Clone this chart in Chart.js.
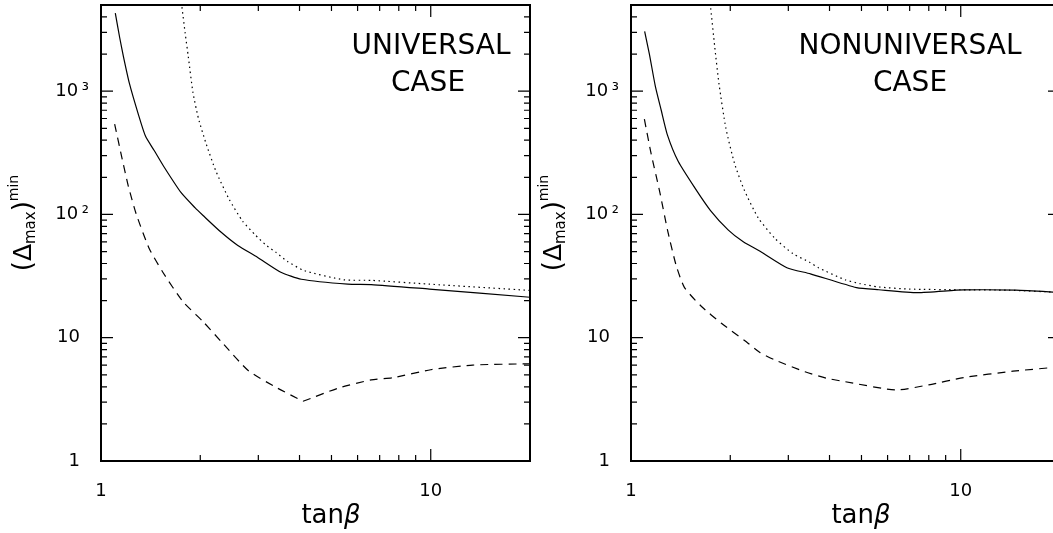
<!DOCTYPE html>
<html>
<head>
<meta charset="utf-8">
<script src="https://cdn.jsdelivr.net/npm/chart.js@4.4.1/dist/chart.umd.min.js"></script>
<style>
  html, body { margin: 0; padding: 0; background: #fff; overflow: hidden; }
  #wrap { position: relative; width: 1053px; height: 533px; overflow: hidden; background: #fff; }
  #c1 { position: absolute; left: 0; top: 0; }
  #c2 { position: absolute; left: 530px; top: 0; }
</style>
</head>
<body>
<div id="wrap">
  <canvas id="c1" width="531" height="533" style="width:531px;height:533px"></canvas>
  <canvas id="c2" width="531" height="533" style="width:531px;height:533px"></canvas>
</div>
<script>
// ---------------- data ----------------
// Ticks
const xTickValues = [1, 2, 3, 4, 5, 6, 7, 8, 9, 10, 20];
const xTickLabels = ['1', '', '', '', '', '', '', '', '', '10', ''];
const yTickValues = [1, 2, 3, 4, 5, 6, 7, 8, 9,
                     10, 20, 30, 40, 50, 60, 70, 80, 90,
                     100, 200, 300, 400, 500, 600, 700, 800, 900,
                     1000, 2000, 3000, 4000, 5000];
const yTickLabels = ['1\u2002', '', '', '', '', '', '', '', '',
                     '10\u2002', '', '', '', '', '', '', '', '',
                     '10\u2009\u00B2', '', '', '', '', '', '', '', '',
                     '10\u2009\u00B3', '', '', '', ''];

// Universal case (left panel)
const uniSolidX  = [1.105, 1.14, 1.17, 1.22, 1.30, 1.365, 1.45, 1.55, 1.75, 1.93, 2.04, 2.31, 2.6, 2.98, 3.51, 4.05, 5.6, 6.6, 9.9, 20];
const uniSolidY  = [4300, 2700, 1900, 1150, 640, 430, 330, 245, 150, 113, 98, 72, 56, 45, 34, 29.8, 27.2, 27, 24.8, 21.3];
const uniDottedX = [1.76, 1.80, 1.84, 1.90, 1.975, 2.08, 2.23, 2.45, 2.69, 2.94, 3.15, 3.4, 3.68, 4.14, 5.45, 6.6, 9.9, 20];
const uniDottedY = [4800, 2950, 1900, 980, 600, 380, 225, 132, 88, 68, 57, 49, 41.5, 35, 29.5, 29.2, 27.2, 24.2];
const uniDashedX = [1.1, 1.16, 1.21, 1.28, 1.4, 1.54, 1.77, 2.04, 2.35, 2.8, 3.43, 4.1, 5.24, 6.6, 7.7, 10, 13.4, 20];
const uniDashedY = [540, 280, 170, 100, 53, 34, 19.7, 13.5, 8.9, 5.4, 3.9, 3.05, 3.9, 4.55, 4.75, 5.5, 6.0, 6.15];

// Nonuniversal case (right panel)
const nonSolidX  = [1.1, 1.137, 1.185, 1.235, 1.29, 1.39, 1.56, 1.74, 1.97, 2.19, 2.47, 2.97, 3.5, 4.83, 5.64, 7.4, 10.2, 14.7, 20];
const nonSolidY  = [3050, 2000, 1100, 700, 440, 270, 165, 108, 75, 60, 50, 37, 33, 25.5, 24.5, 23.2, 24.4, 24.3, 23.3];
const nonDottedX = [1.745, 1.794, 1.85, 1.94, 2.06, 2.2, 2.43, 2.73, 3.1, 3.48, 3.7, 4.46, 4.94, 5.64, 7.0, 10, 14, 20];
const nonDottedY = [4700, 2300, 1130, 500, 260, 160, 94, 64, 48, 41, 37, 29.5, 27.5, 25.8, 24.8, 24.5, 24.3, 23.3];
const nonDashedX = [1.098, 1.15, 1.22, 1.293, 1.371, 1.453, 1.633, 1.88, 2.21, 2.46, 2.73, 3.37, 3.91, 4.46, 6.34, 8.0, 10.2, 14.4, 20];
const nonDashedY = [592, 314, 156, 73, 38.5, 25.5, 18, 13.1, 9.5, 7.6, 6.6, 5.3, 4.7, 4.4, 3.77, 4.15, 4.75, 5.35, 5.8];

const uniText = ['UNIVERSAL', 'CASE'];
const nonText = ['NONUNIVERSAL', 'CASE'];
const xTitleMain = 'tan';
const xTitleGreek = '\u03B2';

// ---------------- styling ----------------
const FONT = '"DejaVu Sans", "Liberation Sans", sans-serif';
const FW = 400;

function pts(xs, ys) { return xs.map((x, i) => ({ x: x, y: ys[i] })); }

function ds(data, dash, tension) {
  return {
    data: data,
    borderColor: '#000',
    borderWidth: 1.2,
    borderDash: dash,
    pointRadius: 0,
    fill: false,
    tension: tension,
    borderCapStyle: 'butt'
  };
}

// split a curve at its minimum so the sharp kink there is kept
function splitAtMin(xs, ys) {
  let k = 0;
  ys.forEach((v, i) => { if (v < ys[k]) k = i; });
  const all = pts(xs, ys);
  return [all.slice(0, k + 1), all.slice(k)];
}

const panelPlugin = {
  id: 'panel',
  afterDraw(chart, args, opts) {
    const ctx = chart.ctx;
    const { left, right, top, bottom } = chart.chartArea;
    const xs = chart.scales.x, ys = chart.scales.y;
    ctx.save();
    // inward ticks on all four sides
    ctx.strokeStyle = '#000';
    ctx.lineWidth = 1.2;
    ctx.beginPath();
    xTickValues.forEach((v, i) => {
      const px = xs.getPixelForValue(v);
      const L = xTickLabels[i] ? 12 : 6;
      ctx.moveTo(px, bottom); ctx.lineTo(px, bottom - L);
      ctx.moveTo(px, top); ctx.lineTo(px, top + L);
    });
    yTickValues.forEach((v, i) => {
      const py = ys.getPixelForValue(v);
      const L = yTickLabels[i] ? 12 : 6;
      ctx.moveTo(left, py); ctx.lineTo(left + L, py);
      ctx.moveTo(right, py); ctx.lineTo(right - L, py);
    });
    ctx.stroke();
    // frame
    ctx.lineWidth = 2;
    ctx.strokeRect(left, top, right - left, bottom - top);

    ctx.fillStyle = '#000';
    // panel label
    ctx.textAlign = 'center';
    ctx.textBaseline = 'alphabetic';
    ctx.font = FW + ' 28px ' + FONT;
    opts.lines.forEach((t, i) => ctx.fillText(t, opts.cx[i], opts.baselines[i]));

    // x title: tan + italic beta
    ctx.font = FW + ' 26px ' + FONT;
    const w1 = ctx.measureText(xTitleMain).width;
    ctx.font = 'italic ' + FW + ' 26px ' + FONT;
    const w2 = ctx.measureText(xTitleGreek).width;
    const xs0 = opts.xTitleCx - (w1 + w2) / 2;
    ctx.textAlign = 'left';
    ctx.font = FW + ' 26px ' + FONT;
    ctx.fillText(xTitleMain, xs0, 523);
    ctx.font = 'italic ' + FW + ' 26px ' + FONT;
    ctx.fillText(xTitleGreek, xs0 + w1, 523);

    // y title: ( Delta_max )^min, rotated
    const parts = [
      { t: '(', f: FW + ' 26px ' + FONT, dy: 0 },
      { t: '\u0394', f: FW + ' 25px ' + FONT, dy: 0 },
      { t: 'max', f: FW + ' 15px ' + FONT, dy: 4 },
      { t: ')', f: FW + ' 26px ' + FONT, dy: 0 },
      { t: 'min', f: FW + ' 14px ' + FONT, dy: -13 }
    ];
    let total = 0;
    parts.forEach(p => { ctx.font = p.f; p.w = ctx.measureText(p.t).width; total += p.w; });
    ctx.translate(31, 223);
    ctx.rotate(-Math.PI / 2);
    let u = -total / 2;
    parts.forEach(p => { ctx.font = p.f; ctx.fillText(p.t, u, p.dy); u += p.w; });
    ctx.restore();
  }
};

function zeroPad(s) {
  s.paddingTop = 0; s.paddingBottom = 0; s.paddingLeft = 0; s.paddingRight = 0;
}

function makeChart(id, datasets, xmax, text, textCx) {
  return new Chart(document.getElementById(id), {
    type: 'line',
    data: { datasets: datasets },
    plugins: [panelPlugin],
    options: {
      responsive: false,
      animation: false,
      events: [],
      layout: { padding: { top: 5, right: 1, left: 0, bottom: 0 } },
      plugins: {
        legend: { display: false },
        tooltip: { enabled: false },
        panel: { lines: text, cx: textCx, baselines: [54, 91], xTitleCx: 331 }
      },
      scales: {
        x: {
          type: 'logarithmic', position: 'bottom', min: 1, max: xmax,
          grid: { display: false, drawTicks: false, tickLength: 0 },
          border: { display: false },
          afterBuildTicks: s => { s.ticks = xTickValues.map(v => ({ value: v })); },
          afterFit: s => { s.height = 72; zeroPad(s); },
          ticks: {
            autoSkip: false, maxRotation: 0, minRotation: 0, padding: 20, color: '#000',
            font: { family: FONT, size: 18, weight: FW },
            callback: (v, i) => xTickLabels[i]
          }
        },
        y: {
          type: 'logarithmic', position: 'left', min: 1, max: 5000,
          grid: { display: false, drawTicks: false, tickLength: 0 },
          border: { display: false },
          afterBuildTicks: s => { s.ticks = yTickValues.map(v => ({ value: v })); },
          afterFit: s => { s.width = 101; zeroPad(s); },
          ticks: {
            autoSkip: false, padding: 12, color: '#000',
            font: { family: FONT, size: 18, weight: FW },
            callback: (v, i) => yTickLabels[i]
          }
        }
      }
    }
  });
}

const uniDashedParts = splitAtMin(uniDashedX, uniDashedY);

makeChart('c1', [
  ds(pts(uniSolidX, uniSolidY), [], 0.2),
  ds(pts(uniDottedX, uniDottedY), [1.5, 3.5], 0.2),
  ds(uniDashedParts[0], [8, 6], 0.2),
  ds(uniDashedParts[1], [8, 6], 0.2)
], 20, uniText, [431, 428]);

makeChart('c2', [
  ds(pts(nonSolidX, nonSolidY), [], 0.2),
  ds(pts(nonDottedX, nonDottedY), [1.5, 3.5], 0.2),
  ds(pts(nonDashedX, nonDashedY), [8, 6], 0.2)
], 20, nonText, [380, 380]);
</script>
</body>
</html>
